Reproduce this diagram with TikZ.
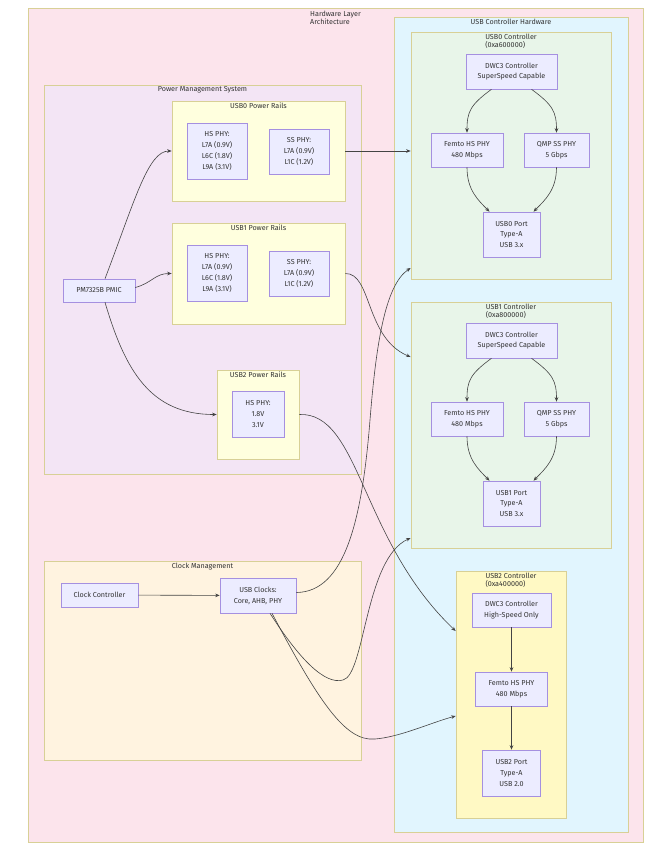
\documentclass[tikz,border=0pt]{standalone}
\usepackage{fontspec}
\setmainfont{Fira Sans}
\usetikzlibrary{arrows.meta}
\definecolor{nodefill}{HTML}{ECECFF}
\definecolor{nodeline}{HTML}{A590E0}
\definecolor{textcol}{HTML}{333333}
\definecolor{linkcol}{HTML}{444444}
\definecolor{clline}{RGB}{216,208,150}
\definecolor{hwfill}{HTML}{FCE4EC}
\definecolor{usbfill}{HTML}{E1F5FE}
\definecolor{ctrlfill}{HTML}{E8F5E9}
\definecolor{u2fill}{HTML}{FFF9C4}
\definecolor{pmsfill}{HTML}{F3E5F5}
\definecolor{railfill}{HTML}{FFFFDE}
\definecolor{clkfill}{HTML}{FFF3E0}
\begin{document}
\begin{tikzpicture}[x=1pt,y=-1pt,
  box/.style={draw=nodeline, fill=nodefill, line width=0.6pt, align=center, inner sep=0pt, text=textcol, font=\fontsize{7.2}{10.8}\selectfont},
  cluster/.style={draw=clline, line width=0.7pt, inner sep=0pt},
  ctitle/.style={anchor=north, align=left, inner sep=0pt, text=textcol, font=\fontsize{7.2}{8.6}\selectfont},
  link/.style={draw=linkcol, line width=0.6pt, -{Stealth[length=4.5pt,width=3.6pt]}}
]
\useasboundingbox (0,0) rectangle (658,857);
% clusters
\node[cluster, fill=hwfill, minimum width=615pt, minimum height=834pt] (hw) at (335.5,425) {};
\node[ctitle, yshift=-3pt] at (hw.north) {Hardware Layer\\Architecture};
\node[cluster, fill=usbfill, minimum width=234pt, minimum height=815pt] (usbhw) at (511,424.5) {};
\node[ctitle, yshift=-2.5pt] at (usbhw.north) {USB Controller Hardware};
\node[cluster, fill=ctrlfill, minimum width=200pt, minimum height=247pt] (u0c) at (511,155.5) {};
\node[ctitle, yshift=-2pt] at (u0c.north) {USB0 Controller\\(0xa600000)};
\node[cluster, fill=ctrlfill, minimum width=200pt, minimum height=246pt] (u1c) at (511,425) {};
\node[ctitle, yshift=-2pt] at (u1c.north) {USB1 Controller\\(0xa800000)};
\node[cluster, fill=u2fill, minimum width=110pt, minimum height=247pt] (u2c) at (511,694.5) {};
\node[ctitle, yshift=-2pt] at (u2c.north) {USB2 Controller\\(0xa400000)};
\node[cluster, fill=pmsfill, minimum width=317pt, minimum height=389pt] (pms) at (202.5,279.5) {};
\node[ctitle, yshift=-2pt] at (pms.north) {Power Management System};
\node[cluster, fill=railfill, minimum width=173pt, minimum height=100pt] (u0pr) at (258.5,151) {};
\node[ctitle, yshift=-2pt] at (u0pr.north) {USB0 Power Rails};
\node[cluster, fill=railfill, minimum width=173pt, minimum height=101pt] (u1pr) at (258.5,273.5) {};
\node[ctitle, yshift=-2pt] at (u1pr.north) {USB1 Power Rails};
\node[cluster, fill=railfill, minimum width=82pt, minimum height=89pt] (u2pr) at (258,414.5) {};
\node[ctitle, yshift=-2pt] at (u2pr.north) {USB2 Power Rails};
\node[cluster, fill=clkfill, minimum width=317pt, minimum height=199pt] (clk) at (202.5,660.5) {};
\node[ctitle, yshift=-2pt] at (clk.north) {Clock Management};
% nodes
\node[box, minimum width=72pt, minimum height=23pt] (pmic) at (99,290.5) {PM7325B PMIC};
\node[box, minimum width=60pt, minimum height=56pt] (u0hs) at (217,151) {HS PHY:\\L7A (0.9V)\\L6C (1.8V)\\L9A (3.1V)};
\node[box, minimum width=60pt, minimum height=45pt] (u0ss) at (299,151.5) {SS PHY:\\L7A (0.9V)\\L1C (1.2V)};
\node[box, minimum width=60pt, minimum height=56pt] (u1hs) at (217,273) {HS PHY:\\L7A (0.9V)\\L6C (1.8V)\\L9A (3.1V)};
\node[box, minimum width=60pt, minimum height=45pt] (u1ss) at (299,273.5) {SS PHY:\\L7A (0.9V)\\L1C (1.2V)};
\node[box, minimum width=52pt, minimum height=46pt] (u2hs) at (258,414) {HS PHY:\\1.8V\\3.1V};
\node[box, minimum width=77pt, minimum height=24pt] (cc) at (99.5,595) {Clock Controller};
\node[box, minimum width=76pt, minimum height=35pt] (uclk) at (258,595.5) {USB Clocks:\\Core, AHB, PHY};
\node[box, minimum width=91pt, minimum height=35pt] (u0dwc) at (511.5,71.5) {DWC3 Controller\\SuperSpeed Capable};
\node[box, minimum width=72pt, minimum height=34pt] (u0fe) at (467,150) {Femto HS PHY\\480 Mbps};
\node[box, minimum width=65pt, minimum height=34pt] (u0qmp) at (556.5,150) {QMP SS PHY\\5 Gbps};
\node[box, minimum width=57pt, minimum height=45pt] (u0port) at (511.5,234.5) {USB0 Port\\Type-A\\USB 3.x};
\node[box, minimum width=91pt, minimum height=35pt] (u1dwc) at (511.5,340.5) {DWC3 Controller\\SuperSpeed Capable};
\node[box, minimum width=72pt, minimum height=34pt] (u1fe) at (467,419) {Femto HS PHY\\480 Mbps};
\node[box, minimum width=65pt, minimum height=34pt] (u1qmp) at (556.5,419) {QMP SS PHY\\5 Gbps};
\node[box, minimum width=57pt, minimum height=45pt] (u1port) at (511.5,503.5) {USB1 Port\\Type-A\\USB 3.x};
\node[box, minimum width=79pt, minimum height=34pt] (u2dwc) at (511.5,610) {DWC3 Controller\\High-Speed Only};
\node[box, minimum width=72pt, minimum height=34pt] (u2fe) at (511.5,689) {Femto HS PHY\\480 Mbps};
\node[box, minimum width=58pt, minimum height=46pt] (u2port) at (511.5,773) {USB2 Port\\Type-A\\USB 2.0};
% connector end points on cluster borders
\coordinate (u0cA) at (u0c.west |- 0,151);
\coordinate (u0cB) at (u0c.west |- 0,268);
\coordinate (u1cA) at (u1c.west |- 0,357);
\coordinate (u1cB) at (u1c.west |- 0,538);
\coordinate (u2cA) at (u2c.west |- 0,631);
\coordinate (u2cB) at (u2c.west |- 0,716);
% power links
\draw[link] ([xshift=6pt]pmic.north) .. controls (135,200) and (148,151) .. (u0pr.west);
\draw[link] ([yshift=3pt]pmic.east) .. controls (152,283) and (155,273.5) .. (u1pr.west);
\draw[link] ([xshift=6pt]pmic.south) .. controls (125,370) and (150,414.5) .. (u2pr.west);
\draw[link] (u0pr.east |- u0cA) -- (u0cA);
\draw[link] (u1pr.east) .. controls (372,273) and (365,338) .. (u1cA);
\draw[link] (u2pr.east) .. controls (360,412) and (360,540) .. (u2cA);
% clock links
\draw[link] (cc) -- (uclk);
\draw[link] ([yshift=3pt]uclk.east) .. controls (345,592) and (362,520) .. (370,420) .. controls (376,345) and (385,285) .. (u0cB);
\draw[link] ([xshift=12pt]uclk.south) .. controls (300,660) and (325,685) .. (343,680) .. controls (365,675) and (365,558) .. (u1cB);
\draw[link] ([xshift=14pt]uclk.south) .. controls (318,700) and (345,742) .. (375,739) .. controls (400,737) and (430,723) .. (u2cB);
% USB0 internal
\draw[link] ([xshift=-20pt]u0dwc.south) .. controls (470,105) and (467,112) .. (u0fe.north);
\draw[link] ([xshift=20pt]u0dwc.south) .. controls (553,105) and (556.5,112) .. (u0qmp.north);
\draw[link] (u0fe.south) .. controls (467,190) and (478,200) .. ([xshift=-22pt]u0port.north);
\draw[link] (u0qmp.south) .. controls (556.5,190) and (545,200) .. ([xshift=22pt]u0port.north);
% USB1 internal
\draw[link] ([xshift=-20pt]u1dwc.south) .. controls (470,374) and (467,381) .. (u1fe.north);
\draw[link] ([xshift=20pt]u1dwc.south) .. controls (553,374) and (556.5,381) .. (u1qmp.north);
\draw[link] (u1fe.south) .. controls (467,459) and (478,469) .. ([xshift=-22pt]u1port.north);
\draw[link] (u1qmp.south) .. controls (556.5,459) and (545,469) .. ([xshift=22pt]u1port.north);
% USB2 internal
\draw[link] (u2dwc) -- (u2fe);
\draw[link] (u2fe) -- (u2port);
\end{tikzpicture}
\end{document}
